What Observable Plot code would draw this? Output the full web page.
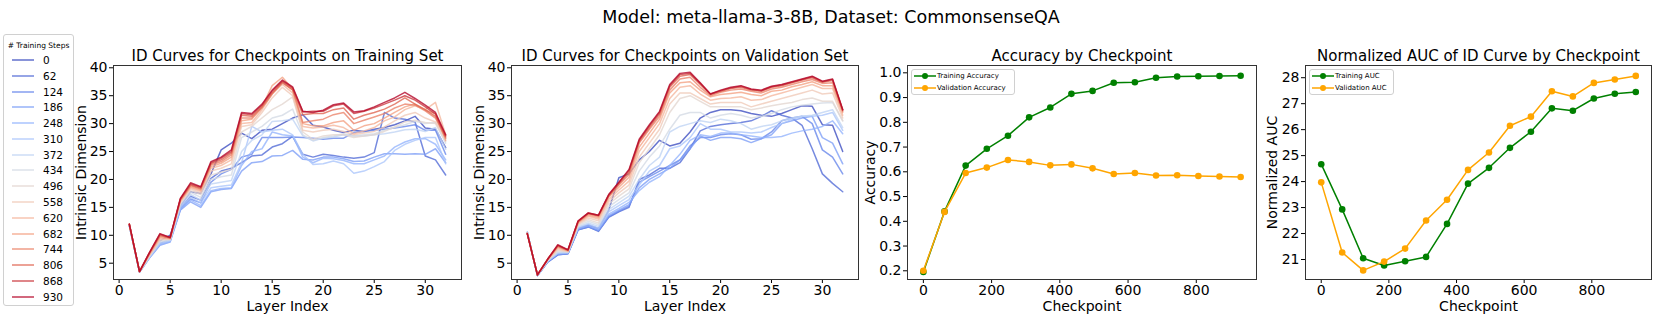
<!DOCTYPE html>
<html><head><meta charset="utf-8">
<script src="https://cdn.jsdelivr.net/npm/d3@7"></script>
<script src="https://cdn.jsdelivr.net/npm/@observablehq/plot@0.6"></script>
<style>
body{margin:0;background:#fff;font-family:"DejaVu Sans",sans-serif;}
#root{position:relative;width:1661px;height:332px;overflow:hidden;background:#fff;}
.title{position:absolute;left:431px;width:800px;top:6px;text-align:center;font-size:17.5px;line-height:22px;color:#000;}
.leg{position:absolute;background:rgba(255,255,255,0.8);border:1px solid #d0d0d0;border-radius:3px;box-sizing:border-box;}
.leg .t{position:absolute;white-space:nowrap;color:#000;}
</style></head><body><div id="root"></div>
<script>
// ---------------- data ----------------
const suptitle = "Model: meta-llama-3-8B, Dataset: CommonsenseQA";
const steps = [0, 62, 124, 186, 248, 310, 372, 434, 496, 558, 620, 682, 744, 806, 868, 930];
const layers = [1,2,3,4,5,6,7,8,9,10,11,12,13,14,15,16,17,18,19,20,21,22,23,24,25,26,27,28,29,30,31,32];

// Intrinsic dimension per layer, one row per training step (training set)
const trainID = [
 [11.8,3.5,6.4,9.0,10.0,15.2,17.8,17.5,21.0,25.3,26.5, 28.3,27.3,28.8,29.0,30.0,31.0,31.6,29.7,29.4,28.8,28.4,28.8,28.6,29.0,29.3,29.8,30.5,31.3,29.2,29.0,25.7],
 [11.8,3.5,6.2,8.6,9.2,14.8,17.0,16.3,20.2,21.5,22.0, 23.0,24.2,24.4,25.8,26.4,27.7,24.5,24.0,24.5,24.3,24.0,23.8,24.0,24.8,32.0,31.0,30.8,30.3,24.2,23.5,20.8],
 [11.8,3.4,6.1,8.4,9.0,14.6,16.5,15.8,19.5,21.0,21.8, 24.0,24.5,27.5,27.5,27.5,27.6,27.5,27.4,27.2,27.4,27.4,28.4,28.6,28.8,29.0,29.2,29.5,29.8,28.8,28.8,24.5],
 [11.8,3.4,6.0,8.2,8.8,14.5,16.0,15.0,17.8,18.2,18.4, 21.5,23.0,23.2,24.2,24.3,25.2,23.6,23.5,24.0,24.0,23.7,23.2,23.3,24.0,24.6,24.6,24.5,24.6,24.5,25.5,23.0],
 [11.8,3.4,6.0,8.3,8.9,14.7,16.3,15.3,18.0,18.4,18.5, 22.5,25.0,25.5,28.5,28.0,27.8,24.0,23.0,23.8,23.7,23.4,22.8,22.8,23.5,24.2,25.8,26.7,27.3,27.3,26.3,23.5],
 [11.8,3.4,6.1,8.5,9.0,15.0,16.8,15.8,18.5,18.8,19.0, 23.0,29.5,28.5,28.8,29.0,28.0,24.5,22.7,22.8,23.3,22.8,21.1,21.5,22.3,23.2,25.2,26.3,27.0,27.5,27.5,22.8],
 [11.8,3.4,6.2,8.7,9.1,15.3,17.3,16.3,19.2,19.5,19.8, 25.0,27.0,28.0,30.4,30.5,30.8,27.8,26.9,27.4,27.6,28.0,27.8,27.8,28.0,28.2,28.5,28.9,29.0,28.6,29.3,25.4],
 [11.8,3.5,6.3,8.9,9.2,15.6,17.7,16.8,20.0,20.5,20.8, 27.5,28.5,29.5,31.0,31.5,32.6,28.0,27.0,27.5,27.8,28.2,27.8,28.0,28.2,28.8,29.3,29.8,30.4,30.0,30.2,26.5],
 [11.9,3.5,6.4,9.1,9.3,15.8,18.0,17.3,20.8,21.3,21.8, 28.5,29.5,31.0,32.5,33.5,34.8,28.5,27.2,27.8,28.0,28.0,27.5,27.8,28.0,28.6,29.4,30.3,30.6,30.2,30.0,26.8],
 [11.9,3.5,6.5,9.3,9.3,16.0,18.3,17.6,21.5,22.0,22.8, 29.5,29.8,32.0,34.6,36.5,35.0,28.8,28.5,28.8,29.0,28.6,28.0,28.3,28.6,29.4,30.5,31.5,32.0,31.0,30.3,27.3],
 [11.9,3.5,6.6,9.5,9.4,16.1,18.5,17.9,22.0,22.5,23.5, 30.0,30.2,32.5,35.3,37.0,35.5,29.5,29.2,29.4,29.7,29.3,28.2,28.7,29.3,30.5,31.2,32.5,33.2,32.5,33.8,28.0],
 [11.9,3.5,6.7,9.7,9.4,16.2,18.7,18.1,22.3,22.9,24.0, 30.5,30.8,33.0,36.8,38.3,36.2,30.0,29.6,29.6,30.2,30.5,28.8,29.6,30.0,31.0,32.0,33.0,33.5,32.4,31.8,27.0],
 [12.0,3.5,6.8,9.9,9.5,16.3,18.9,18.3,22.6,23.2,24.4, 31.0,31.0,32.8,35.3,37.5,36.0,30.2,30.5,30.8,31.6,32.0,30.0,30.6,31.2,31.8,32.8,33.5,33.3,32.3,31.0,27.4],
 [12.0,3.5,6.9,10.0,9.5,16.4,19.0,18.4,22.8,23.5,24.7, 31.5,31.3,33.0,35.5,37.3,36.1,31.6,31.8,31.8,32.5,32.8,30.8,31.5,32.0,32.6,33.5,34.6,33.5,32.5,31.3,27.6],
 [12.0,3.5,7.0,10.2,9.6,16.5,19.2,18.6,23.0,23.8,25.0, 31.8,31.6,33.3,35.8,37.6,36.4,32.1,32.2,32.2,33.2,33.5,31.8,32.2,32.8,33.5,34.2,35.0,34.2,33.0,31.7,27.8],
 [12.0,3.5,7.0,10.3,9.6,16.6,19.4,18.7,23.2,24.0,25.3, 32.0,31.8,33.5,36.0,37.8,36.6,32.2,32.0,32.4,33.4,33.7,32.1,32.3,33.0,33.8,34.6,35.6,34.5,33.3,32.0,28.0]
];

// Intrinsic dimension per layer, one row per training step (validation set)
const valID = [
 [10.5,2.8,5.3,6.6,6.8,11.2,11.8,11.2,14.5,20.3,21.0, 23.5,25.0,27.0,26.0,26.5,28.5,31.0,32.0,32.5,32.5,32.3,31.8,31.5,31.3,31.8,32.5,33.2,33.1,29.8,29.7,25.0],
 [10.5,2.8,5.2,6.5,6.7,11.0,11.5,10.7,13.2,14.2,15.0, 20.0,20.8,22.0,22.0,23.0,25.5,28.7,29.5,29.8,30.0,30.2,30.5,31.3,32.3,31.5,31.0,29.7,25.5,21.0,19.3,17.8],
 [10.5,2.8,5.2,6.5,6.7,11.0,11.5,10.8,13.3,14.3,15.2, 19.5,20.5,21.5,22.5,23.5,26.0,27.5,27.5,28.0,28.2,28.0,27.2,27.3,28.5,30.5,31.0,31.3,30.0,25.3,24.0,21.0],
 [10.5,2.8,5.3,6.6,6.8,11.1,11.6,10.9,13.5,14.5,15.5, 18.5,20.0,21.0,22.0,23.5,25.5,27.8,27.0,27.5,27.5,27.3,26.6,27.3,28.0,30.0,30.5,31.0,31.3,27.5,26.5,22.8],
 [10.5,2.8,5.3,6.7,6.8,11.2,11.8,11.1,13.8,14.8,15.9, 18.0,19.5,20.5,22.5,24.5,27.0,28.0,27.7,28.3,28.3,28.0,27.8,27.5,27.5,27.7,28.3,28.7,29.0,29.5,30.5,28.2],
 [10.5,2.8,5.4,6.8,6.9,11.4,12.0,11.3,14.2,15.3,16.4, 19.0,21.5,22.5,25.5,26.0,27.5,30.0,29.0,29.0,28.5,28.5,28.3,28.5,29.3,30.0,30.8,31.3,31.3,31.5,32.0,28.8],
 [10.5,2.8,5.4,6.9,6.9,11.5,12.2,11.6,14.6,15.8,17.0, 20.0,22.5,24.0,28.5,29.5,30.0,30.5,30.2,30.8,30.5,30.0,29.0,29.5,29.8,30.5,31.0,31.3,31.5,32.0,32.5,29.3],
 [10.4,2.8,5.5,7.1,7.0,11.7,12.5,11.9,15.1,16.4,17.6, 21.5,24.0,26.0,29.0,31.5,32.0,32.0,31.0,31.5,31.8,31.5,31.0,31.3,31.8,32.5,33.0,33.3,33.5,33.7,33.8,30.5],
 [10.4,2.9,5.5,7.3,7.0,11.9,12.8,12.2,15.6,17.0,18.3, 23.0,25.5,28.0,32.0,34.5,35.0,34.0,33.0,33.0,33.0,33.0,32.5,32.8,33.2,33.5,33.8,34.3,34.6,34.0,34.0,30.5],
 [10.4,2.9,5.6,7.5,7.1,12.0,13.1,12.6,16.0,17.6,19.0, 24.0,26.5,29.0,33.5,35.5,35.5,34.5,33.5,33.8,33.8,33.8,33.0,33.5,34.0,34.5,35.0,35.5,36.0,35.3,35.5,31.0],
 [10.4,2.9,5.6,7.7,7.2,12.2,13.4,12.9,16.4,18.1,19.7, 25.0,27.5,30.0,34.5,36.5,36.8,35.3,34.2,34.5,34.6,34.8,34.2,34.3,35.0,35.5,36.0,36.5,37.0,36.3,36.3,31.5],
 [10.3,2.9,5.7,7.9,7.2,12.3,13.6,13.2,16.8,18.6,20.4, 25.8,28.3,30.8,35.5,37.3,37.5,36.0,34.8,35.2,35.4,35.6,35.2,35.0,35.8,36.0,36.6,37.0,37.5,36.8,36.8,32.0],
 [10.3,2.9,5.7,8.0,7.3,12.4,13.8,13.4,17.0,19.0,20.9, 26.5,29.0,31.3,36.0,38.0,38.3,36.5,35.0,35.6,36.0,36.2,35.8,35.5,36.2,36.5,37.0,37.5,37.9,37.2,37.3,32.2],
 [10.3,2.9,5.7,8.1,7.3,12.5,13.9,13.5,17.1,19.2,21.3, 26.8,29.3,31.7,36.5,38.5,38.8,37.0,35.2,35.8,36.3,36.5,36.0,35.8,36.5,36.8,37.3,37.8,38.2,37.4,37.7,32.4],
 [10.3,2.9,5.7,8.2,7.4,12.5,14.0,13.6,17.2,19.4,21.6, 27.0,29.6,32.0,36.8,38.8,39.0,37.2,35.3,35.9,36.4,36.7,36.1,35.9,36.6,36.9,37.4,37.9,38.4,37.5,37.9,32.5],
 [10.3,2.9,5.7,8.3,7.4,12.6,14.0,13.6,17.3,19.5,21.8, 27.2,29.8,32.2,37.0,39.0,39.2,37.3,35.3,36.0,36.5,36.8,36.2,36.0,36.7,37.0,37.5,38.0,38.5,37.6,38.0,32.5]
];

const checkpoints = [0, 62, 124, 186, 248, 310, 372, 434, 496, 558, 620, 682, 744, 806, 868, 930];
const trainAcc = [0.195, 0.44, 0.625, 0.693, 0.746, 0.82, 0.86, 0.915, 0.927, 0.96, 0.962, 0.98, 0.985, 0.986, 0.987, 0.988];
const valAcc   = [0.200, 0.438, 0.595, 0.617, 0.648, 0.640, 0.626, 0.630, 0.614, 0.591, 0.595, 0.585, 0.586, 0.583, 0.581, 0.579];
const trainAUC = [24.67, 22.93, 21.05, 20.77, 20.93, 21.10, 22.37, 23.92, 24.53, 25.30, 25.92, 26.82, 26.73, 27.20, 27.38, 27.45];
const valAUC   = [23.97, 21.27, 20.58, 20.92, 21.42, 22.50, 23.30, 24.45, 25.12, 26.15, 26.50, 27.48, 27.28, 27.80, 27.93, 28.07];

const layerTicks = [0, 5, 10, 15, 20, 25, 30];
const idTicks = [5, 10, 15, 20, 25, 30, 35, 40];
const ckTicks = [0, 200, 400, 600, 800];
const accTicks = [0.2, 0.3, 0.4, 0.5, 0.6, 0.7, 0.8, 0.9, 1.0];
const aucTicks = [21, 22, 23, 24, 25, 26, 27, 28];

// ---------------- styles ----------------
const coolwarmStops = ["rgb(59,76,192)","rgb(98,130,234)","rgb(141,176,254)","rgb(184,208,249)","rgb(221,221,221)","rgb(245,196,173)","rgb(244,154,123)","rgb(222,96,77)","rgb(180,4,38)"];
const coolwarm = d3.piecewise(d3.interpolateRgb, coolwarmStops);
const FONT = "DejaVu Sans";
const TICKFS = 14;
const H = 332, FT = 65, FB = 279, ML = 62;

const root = document.getElementById("root");
d3.select(root).append("div").attr("class", "title").text(suptitle);

function place(svg, left) {
  svg.style.position = "absolute";
  svg.style.left = left + "px";
  svg.style.top = "0px";
  root.appendChild(svg);
}

function common(fl, fr, mr) {
  return {
    width: (fr - fl) + ML + mr, height: H,
    marginLeft: ML, marginRight: mr, marginTop: FT, marginBottom: H - FB,
    style: {background: "transparent", fontFamily: FONT, fontSize: TICKFS + "px", color: "#000", overflow: "visible"}
  };
}

function axes(xt, yt, yfmt) {
  return [
    Plot.axisX({ticks: xt, tickSize: 4, tickPadding: 2, fontSize: TICKFS, label: null}),
    Plot.axisY({ticks: yt, tickSize: 4, tickPadding: 2, fontSize: TICKFS, label: null, ...(yfmt ? {tickFormat: yfmt} : {})})
  ];
}

function labels(title, xlab, ylab, ydx) {
  return [
    Plot.text([title], {text: d => d, frameAnchor: "top", dy: -9, fontSize: 15, textAnchor: "middle", lineAnchor: "middle"}),
    Plot.text([xlab], {text: d => d, frameAnchor: "bottom", dy: 27, fontSize: 14, textAnchor: "middle", lineAnchor: "middle"}),
    Plot.text([ylab], {text: d => d, frameAnchor: "left", dx: ydx, rotate: -90, fontSize: 14, textAnchor: "middle", lineAnchor: "middle"})
  ];
}

function idPanel(mat, title, fl, fr) {
  const rows = [];
  steps.forEach((s, i) => layers.forEach((l, j) => rows.push({step: s, layer: l, value: mat[i][j]})));
  const p = Plot.plot({
    ...common(fl, fr, 10),
    x: {domain: [-0.55, 33.55]},
    y: {domain: [2.08, 40.41]},
    color: {type: "linear", domain: [0, 930], interpolate: coolwarm},
    marks: [
      ...axes(layerTicks, idTicks),
      Plot.line(rows, {x: "layer", y: "value", z: "step", stroke: "step", strokeWidth: 1.5, strokeOpacity: 0.78}),
      Plot.frame({stroke: "#333", strokeWidth: 1}),
      ...labels(title, "Layer Index", "Intrinsic Dimension", -32)
    ]
  });
  place(p, fl - ML);
}

function ckPanel(tr, va, title, ylab, fl, fr, ydom, yticks, yfmt, ydx) {
  const tRows = checkpoints.map((c, i) => ({c, v: tr[i]}));
  const vRows = checkpoints.map((c, i) => ({c, v: va[i]}));
  const p = Plot.plot({
    ...common(fl, fr, 8),
    x: {domain: [-46.5, 976.5]},
    y: {domain: ydom},
    marks: [
      ...axes(ckTicks, yticks, yfmt),
      Plot.line(tRows, {x: "c", y: "v", stroke: "green", strokeWidth: 1.5}),
      Plot.dot(tRows, {x: "c", y: "v", fill: "green", r: 3.3}),
      Plot.line(vRows, {x: "c", y: "v", stroke: "orange", strokeWidth: 1.5}),
      Plot.dot(vRows, {x: "c", y: "v", fill: "orange", r: 3.3}),
      Plot.frame({stroke: "#333", strokeWidth: 1}),
      ...labels(title, "Checkpoint", ylab, ydx)
    ]
  });
  place(p, fl - ML);
}

idPanel(trainID, "ID Curves for Checkpoints on Training Set", 113, 461);
idPanel(valID, "ID Curves for Checkpoints on Validation Set", 511, 858);
ckPanel(trainAcc, valAcc, "Accuracy by Checkpoint", "Accuracy", 907, 1256, [0.1648, 1.0296], accTicks, d3.format(".1f"), -37);
ckPanel(trainAUC, valAUC, "Normalized AUC of ID Curve by Checkpoint", "Normalized AUC", 1305, 1651, [20.23, 28.47], aucTicks, d3.format("d"), -33);

// ---------------- legends ----------------
function swatch(parent, x, y, color, opacity, withDot) {
  const s = parent.append("svg").style("position", "absolute").style("left", x + "px").style("top", (y - 4) + "px")
    .attr("width", 22).attr("height", 8);
  s.append("line").attr("x1", 0).attr("x2", 22).attr("y1", 4).attr("y2", 4)
    .attr("stroke", color).attr("stroke-width", withDot ? 1.5 : 2).attr("stroke-opacity", opacity);
  if (withDot) s.append("circle").attr("cx", 11).attr("cy", 4).attr("r", 3).attr("fill", color);
}

// training steps legend
const leg = d3.select(root).append("div").attr("class", "leg")
  .style("left", "3px").style("top", "34px").style("width", "71px").style("height", "272px");
leg.append("div").attr("class", "t").style("left", "0px").style("width", "69px").style("text-align", "center")
  .style("top", "6px").style("font-size", "7.5px").style("line-height", "10px").text("# Training Steps");
steps.forEach((s, i) => {
  const cy = 25 + i * 15.78;
  swatch(leg, 8, cy, coolwarm(s / 930), 0.6, false);
  leg.append("div").attr("class", "t").style("left", "39px").style("top", (cy - 7) + "px")
    .style("font-size", "10.5px").style("line-height", "14px").text(String(s));
});

function panelLegend(left, width, names) {
  const lg = d3.select(root).append("div").attr("class", "leg")
    .style("left", left + "px").style("top", "69px").style("width", width + "px").style("height", "26px");
  [["green", names[0]], ["orange", names[1]]].forEach(([c, n], i) => {
    const cy = 6 + i * 12;
    swatch(lg, 2, cy, c, 1, true);
    lg.append("div").attr("class", "t").style("left", "25px").style("top", (cy - 5) + "px")
      .style("font-size", "7px").style("line-height", "10px").text(n);
  });
}
panelLegend(911, 104, ["Training Accuracy", "Validation Accuracy"]);
panelLegend(1309, 85, ["Training AUC", "Validation AUC"]);
</script></body></html>
